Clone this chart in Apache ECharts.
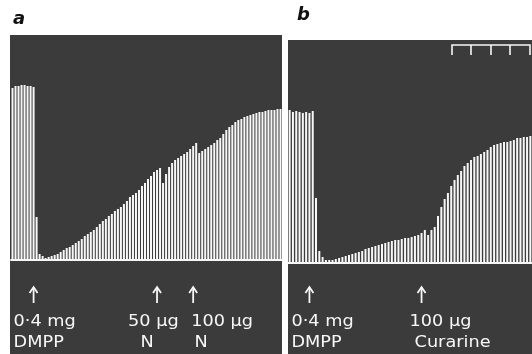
<!DOCTYPE html>
<html><head><meta charset="utf-8">
<script src="https://cdn.jsdelivr.net/npm/echarts@6/dist/echarts.min.js"></script>
<style>html,body{margin:0;padding:0;background:#fff}#c{width:532px;height:354px}</style>
</head><body><div id="c"></div>
<script>
// Twitch heights (panel a: DMPP then nicotine N; panel b: DMPP then curarine)
const twitchA = [172,174,174,175,175,174,174,173,43,6,4,2,3,4,5,6,8,10,12,13,
  15,17,19,21,24,26,28,30,33,36,39,41,44,46,49,51,53,56,59,63,
  65,67,70,74,77,81,84,88,90,92,77,86,93,97,100,102,104,106,108,111,
  114,117,107,109,111,113,115,117,120,122,126,130,133,135,138,140,141,143,144,145,
  146,147,148,148,149,150,150,150,151,151];
const twitchB = [153,151,152,151,150,151,150,152,65,12,6,3,3,3,4,5,6,7,8,9,
  10,11,12,14,15,16,17,18,19,20,21,22,23,23,24,25,25,26,27,28,
  30,33,28,33,36,47,56,64,70,77,83,88,92,97,100,103,106,107,109,111,
  113,116,118,119,120,121,121,122,123,125,125,126,126,127];
const panelLabels = ['a', 'b'];
// annotations: [panel, stroke index, line1, line2]
const annotations = [
  [0, 7, '0·4 mg', 'DMPP'],
  [0, 48, '50 µg', 'N'],
  [0, 60, '100 µg', 'N'],
  [1, 6, '0·4 mg', 'DMPP'],
  [1, 40, '100 µg', 'Curarine']
];

const W = '#f7f7f7', BG = '#3b3b3b';
const chart = echarts.init(document.getElementById('c'), null, {renderer: 'canvas'});
const idx = a => a.map((_, i) => i);
const xAx = (g, d) => ({type: 'category', gridIndex: g, data: idx(d), boundaryGap: true,
  axisLine: {show: true, lineStyle: {color: W, width: 1.8}}, axisTick: {show: false}, axisLabel: {show: false}});
const yAx = (g, m) => ({type: 'value', gridIndex: g, min: 0, max: m, show: false});
const panels = [
  {type: 'rect', z: -10, shape: {x: 10, y: 35, width: 272, height: 319}, style: {fill: BG}},
  {type: 'rect', z: -10, shape: {x: 288, y: 40, width: 244, height: 314}, style: {fill: BG}}
];
chart.setOption({
  animation: false,
  backgroundColor: '#ffffff',
  graphic: panels,
  grid: [
    {left: 11, right: 250, top: 35, bottom: 94},
    {left: 288, right: 0, top: 40, bottom: 91}
  ],
  xAxis: [xAx(0, twitchA), xAx(1, twitchB)],
  yAxis: [yAx(0, 225), yAx(1, 223)],
  series: [
    {type: 'bar', xAxisIndex: 0, yAxisIndex: 0, data: twitchA, barWidth: 2, itemStyle: {color: W}},
    {type: 'bar', xAxisIndex: 1, yAxisIndex: 1, data: twitchB, barWidth: 2, itemStyle: {color: W}}
  ]
});

// Annotation layout (arrows at stroke positions, text offsets)
const textOffsets = [[-20, -20, 'left', 'left'], [-29, -10, 'left', 'center'], [-2, 8, 'left', 'center'],
                     [-18, -18, 'left', 'left'], [-12, -7, 'left', 'left']];
const font = '15px "DejaVu Sans"';
const g = [];
const txt = (x, y, s, align) => ({type: 'text', x: x, y: y, scaleX: 1.18, originX: 0, originY: 0,
  style: {text: s, fill: W, font: font, textAlign: align, textVerticalAlign: 'top'}});
annotations.forEach((a, k) => {
  const x = chart.convertToPixel({xAxisIndex: a[0]}, a[1]);
  g.push({type: 'line', shape: {x1: x, y1: 303, x2: x, y2: 288}, style: {stroke: W, lineWidth: 1.8}});
  g.push({type: 'polyline', shape: {points: [[x - 4, 293], [x, 287], [x + 4, 293]]}, style: {stroke: W, lineWidth: 1.8, fill: null}});
  const o = textOffsets[k];
  g.push(txt(x + o[0], 315, a[2], o[2]));
  g.push(txt(x + o[1], 336, a[3], o[3]));
});
// time marker bracket
const tx = [452, 471, 491, 510, 530];
g.push({type: 'polyline', shape: {points: [[tx[0], 55], [tx[0], 45], [tx[4], 45], [tx[4], 55]]}, style: {stroke: W, lineWidth: 1.6, fill: null}});
tx.slice(1, 4).forEach(x => g.push({type: 'line', shape: {x1: x, y1: 45, x2: x, y2: 55}, style: {stroke: W, lineWidth: 1.6}}));
// panel letters
g.push({type: 'text', x: 13, y: 10, style: {text: panelLabels[0], fill: '#111', font: 'italic bold 18px "DejaVu Sans"', textVerticalAlign: 'top'}});
g.push({type: 'text', x: 297, y: 6, style: {text: panelLabels[1], fill: '#111', font: 'italic bold 18px "DejaVu Sans"', textVerticalAlign: 'top'}});
chart.setOption({graphic: panels.concat(g)});
</script></body></html>
